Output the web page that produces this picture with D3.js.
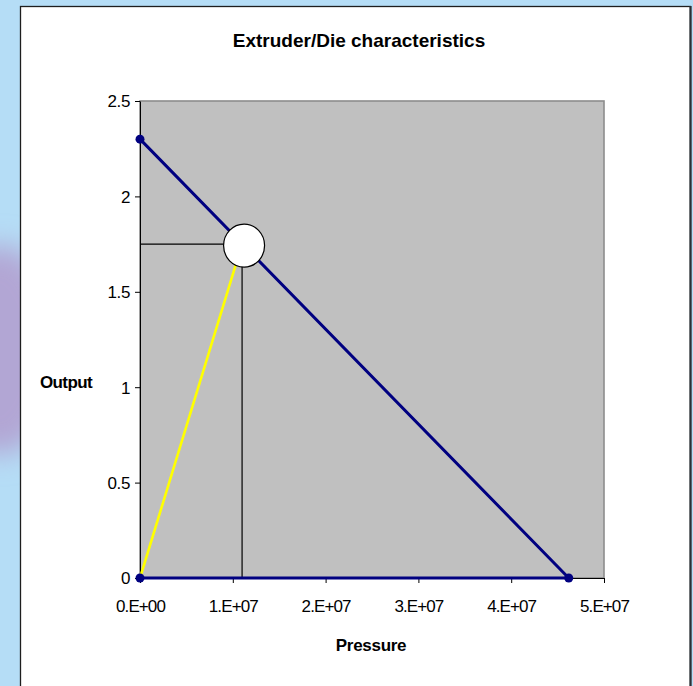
<!DOCTYPE html>
<html>
<head>
<meta charset="utf-8">
<script src="https://cdn.jsdelivr.net/npm/d3@7/dist/d3.min.js"></script>
<style>
  html, body { margin: 0; padding: 0; background: #b5ddf6; overflow: hidden; }
  svg { display: block; }
  text { font-family: "Liberation Sans", Arial, Helvetica, sans-serif; fill: #000; }
</style>
</head>
<body>
<svg id="chart" width="693" height="686"></svg>
<script>
// Extruder characteristic: pressure (Pa) vs output, drawn as a closed path back along the axis
const extruderPressure = [0, 4.62e7, 0];
const extruderOutput   = [2.3, 0, 0];

// Die characteristic: straight line from the origin to the operating point
const diePressure = [0, 1.1e7];
const dieOutput   = [0, 1.75];

// Operating point (intersection of the two characteristics)
const operatingPressure = [1.1e7];
const operatingOutput   = [1.75];

// Axis ticks and labels
const xTickValues = [0, 1e7, 2e7, 3e7, 4e7, 5e7];
const xTickLabels = ["0.E+00", "1.E+07", "2.E+07", "3.E+07", "4.E+07", "5.E+07"];
const yTickValues = [0, 0.5, 1, 1.5, 2, 2.5];
const yTickLabels = ["0", "0.5", "1", "1.5", "2", "2.5"];

const titleText = "Extruder/Die characteristics";
const xTitle = "Pressure";
const yTitle = "Output";

const svg = d3.select("#chart");

// Slide backdrop: light blue with a soft lavender patch on the left edge
const defs = svg.append("defs");
const blur = defs.append("filter").attr("id", "soft").attr("x", "-50%").attr("y", "-50%")
  .attr("width", "200%").attr("height", "200%");
blur.append("feGaussianBlur").attr("stdDeviation", 14);
svg.append("rect").attr("width", 693).attr("height", 686).attr("fill", "#b5ddf6");
svg.append("ellipse").attr("cx", 0).attr("cy", 350).attr("rx", 60).attr("ry", 105)
  .attr("fill", "#b2a6d4").attr("filter", "url(#soft)");

// Chart frame
svg.append("rect")
  .attr("x", 20.5).attr("y", 6.5).attr("width", 670).attr("height", 690)
  .attr("fill", "#ffffff").attr("stroke", "#1e1e1e").attr("stroke-width", 1.3);
svg.append("line").attr("x1", 690.5).attr("x2", 690.5).attr("y1", 6).attr("y2", 686)
  .attr("stroke", "#2b3136").attr("stroke-width", 2.2);

// Plot area
const plot = { left: 140, top: 101, right: 604, bottom: 578 };

const x = d3.scaleLinear().domain([0, 5e7]).range([plot.left, plot.right]);
const y = d3.scaleLinear().domain([0, 2.5]).range([plot.bottom, plot.top]);

svg.append("rect")
  .attr("x", plot.left).attr("y", plot.top)
  .attr("width", plot.right - plot.left).attr("height", plot.bottom - plot.top)
  .attr("fill", "#c0c0c0").attr("stroke", "#8c8c8c").attr("stroke-width", 1.6);

// Axes
const xAxis = d3.axisBottom(x)
  .tickValues(xTickValues)
  .tickFormat((d, i) => xTickLabels[i])
  .tickSizeInner(5).tickSizeOuter(0);
const gx = svg.append("g").attr("transform", `translate(0,${plot.bottom})`).call(xAxis);
gx.select(".domain").attr("stroke", "#000").attr("stroke-width", 1);
gx.selectAll(".tick line").attr("stroke", "#000");
gx.selectAll(".tick text")
  .attr("y", 34).attr("dy", 0)
  .style("font-size", "17px").style("letter-spacing", "-0.9px");

const yAxis = d3.axisLeft(y)
  .tickValues(yTickValues)
  .tickFormat((d, i) => yTickLabels[i])
  .tickSizeInner(5).tickSizeOuter(0);
const gy = svg.append("g").attr("transform", `translate(${plot.left},0)`).call(yAxis);
gy.select(".domain").attr("stroke", "#000").attr("stroke-width", 1);
gy.selectAll(".tick line").attr("stroke", "#000");
gy.selectAll(".tick text")
  .attr("x", -10).attr("dy", "0.35em")
  .style("font-size", "17px").style("letter-spacing", "-0.4px");

// Drop lines from the operating point to both axes
svg.append("line")
  .attr("x1", x(0)).attr("x2", x(operatingPressure[0]))
  .attr("y1", y(operatingOutput[0])).attr("y2", y(operatingOutput[0]))
  .attr("stroke", "#000").attr("stroke-width", 1.2);
svg.append("line")
  .attr("x1", x(operatingPressure[0])).attr("x2", x(operatingPressure[0]))
  .attr("y1", y(0)).attr("y2", y(operatingOutput[0]))
  .attr("stroke", "#000").attr("stroke-width", 1.2);

const line = d3.line().x(d => x(d[0])).y(d => y(d[1]));

// Die line
const dieData = d3.zip(diePressure, dieOutput);
svg.append("path").datum(dieData)
  .attr("d", line).attr("fill", "none")
  .attr("stroke", "#ffff00").attr("stroke-width", 2.6);

// Extruder line with markers
const extData = d3.zip(extruderPressure, extruderOutput);
svg.append("path").datum(extData)
  .attr("d", line).attr("fill", "none")
  .attr("stroke", "#000080").attr("stroke-width", 3).attr("stroke-linejoin", "round");
svg.selectAll("circle.marker").data(extData).join("circle")
  .attr("class", "marker")
  .attr("cx", d => x(d[0])).attr("cy", d => y(d[1]))
  .attr("r", 4.5).attr("fill", "#000080");

// Operating point marker
svg.selectAll("ellipse.op").data(d3.zip(operatingPressure, operatingOutput)).join("ellipse")
  .attr("class", "op")
  .attr("cx", d => x(d[0]) + 2).attr("cy", d => y(d[1]) + 1.5)
  .attr("rx", 20.5).attr("ry", 21.5)
  .attr("fill", "#ffffff").attr("stroke", "#000").attr("stroke-width", 1.2);

// Titles
svg.append("text")
  .attr("x", 359).attr("y", 47).attr("text-anchor", "middle")
  .style("font-size", "19px").style("font-weight", "bold")
  .text(titleText);
svg.append("text")
  .attr("x", 371).attr("y", 651).attr("text-anchor", "middle")
  .style("font-size", "17px").style("font-weight", "bold").style("letter-spacing", "-0.3px")
  .text(xTitle);
svg.append("text")
  .attr("x", 66).attr("y", 388).attr("text-anchor", "middle")
  .style("font-size", "17px").style("font-weight", "bold").style("letter-spacing", "-0.6px")
  .text(yTitle);
</script>
</body>
</html>
